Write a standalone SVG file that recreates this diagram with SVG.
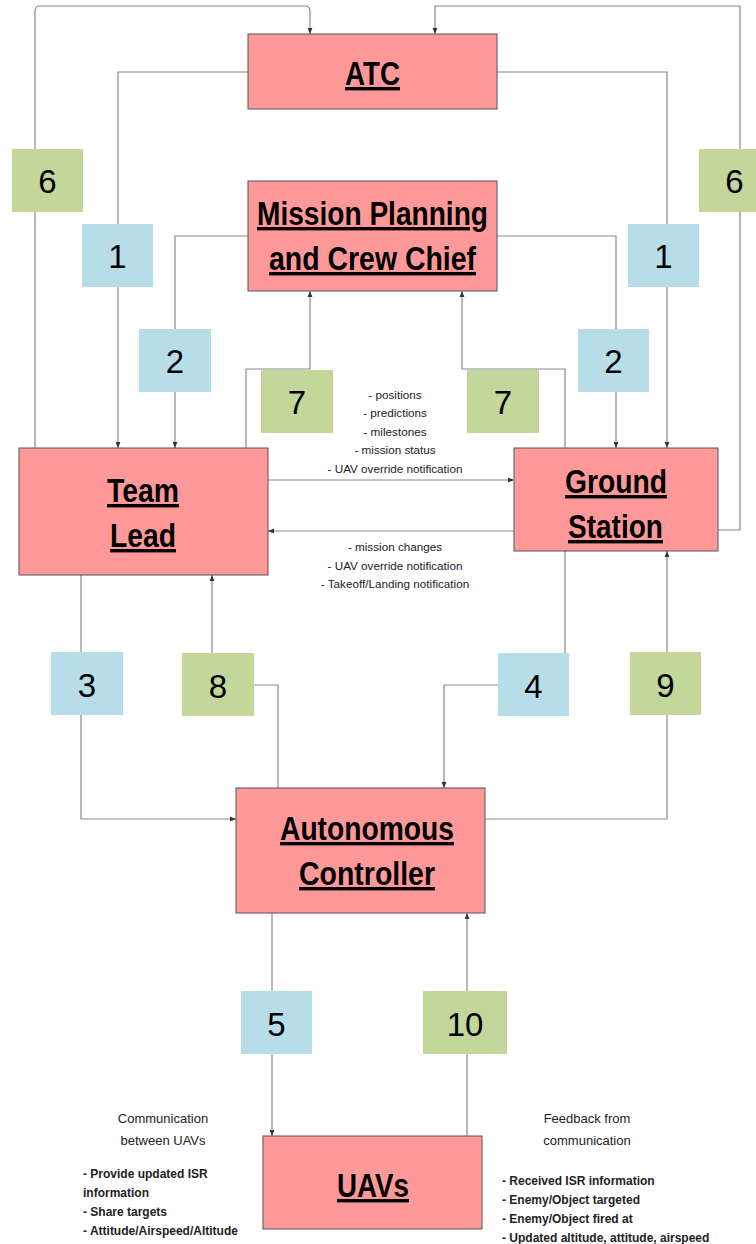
<svg xmlns="http://www.w3.org/2000/svg" width="756" height="1244" viewBox="0 0 756 1244">
<style>
.node{fill:#FF9999;stroke:#555;stroke-width:1}
.title{font-family:"Liberation Sans",Arial,sans-serif;font-weight:bold;font-size:34px;fill:#000;text-anchor:middle;text-decoration:underline}
.blue{fill:#B7DEE8}
.green{fill:#C4D79B}
.num{font-family:"Liberation Sans",Arial,sans-serif;font-size:33px;fill:#000;text-anchor:middle}
.conn{fill:none;stroke:#8a8a8a;stroke-width:1.2}
.note{font-family:"Liberation Sans",Arial,sans-serif;font-size:11.7px;fill:#222;text-anchor:middle}
.cap{font-family:"Liberation Sans",Arial,sans-serif;font-size:13px;fill:#222;text-anchor:middle}
.bul{font-family:"Liberation Sans",Arial,sans-serif;font-size:12px;font-weight:bold;fill:#222}
</style>
<defs>
<marker id="arr" viewBox="0 0 10 10" refX="10" refY="5" markerWidth="5" markerHeight="5" orient="auto">
<path d="M0,1 L10,5 L0,9 z" fill="#333"/>
</marker>
</defs>
<rect width="756" height="1244" fill="#fff"/>

<g id="connectors">
<path class="conn" d="M35,448 V11 Q35,6 40,6 H305 Q310,6 310,11 V34" marker-end="url(#arr)"/>
<path class="conn" d="M248,72 H118 V448" marker-end="url(#arr)"/>
<path class="conn" d="M248,236 H175 V448" marker-end="url(#arr)"/>
<path class="conn" d="M246,448 V369 H310 V291" marker-end="url(#arr)"/>
<path class="conn" d="M718,530 H740 V6 H435 V34" marker-end="url(#arr)"/>
<path class="conn" d="M497,72 H667 V448" marker-end="url(#arr)"/>
<path class="conn" d="M497,236 H616 V448" marker-end="url(#arr)"/>
<path class="conn" d="M565,448 V369 H462 V291" marker-end="url(#arr)"/>
<path class="conn" d="M268,480 H514" marker-end="url(#arr)"/>
<path class="conn" d="M514,531 H268" marker-end="url(#arr)"/>
<path class="conn" d="M81,575 V819 H236" marker-end="url(#arr)"/>
<path class="conn" d="M278,788 V685 H212 V575" marker-end="url(#arr)"/>
<path class="conn" d="M565,551 V685 H444 V788" marker-end="url(#arr)"/>
<path class="conn" d="M485,819 H667 V551" marker-end="url(#arr)"/>
<path class="conn" d="M272,913 V1136" marker-end="url(#arr)"/>
<path class="conn" d="M467,1136 V913" marker-end="url(#arr)"/>
</g>

<g id="atc">
<rect class="node" x="248" y="34" width="249" height="75"/>
<text class="title" x="372.5" y="85" textLength="55" lengthAdjust="spacingAndGlyphs">ATC</text>
</g>
<g id="mission-planning">
<rect class="node" x="248" y="181" width="249" height="110"/>
<text class="title" x="372.5" y="225" textLength="231" lengthAdjust="spacingAndGlyphs">Mission Planning</text>
<text class="title" x="372.5" y="270" textLength="207" lengthAdjust="spacingAndGlyphs">and Crew Chief</text>
</g>
<g id="team-lead">
<rect class="node" x="19" y="448" width="249" height="127"/>
<text class="title" x="143" y="502" textLength="72" lengthAdjust="spacingAndGlyphs">Team</text>
<text class="title" x="143" y="547" textLength="66" lengthAdjust="spacingAndGlyphs">Lead</text>
</g>
<g id="ground-station">
<rect class="node" x="514" y="448" width="204" height="103"/>
<text class="title" x="616" y="493" textLength="102" lengthAdjust="spacingAndGlyphs">Ground</text>
<text class="title" x="615.5" y="538" textLength="95" lengthAdjust="spacingAndGlyphs">Station</text>
</g>
<g id="autonomous-controller">
<rect class="node" x="236" y="788" width="249" height="125"/>
<text class="title" x="367" y="840" textLength="174" lengthAdjust="spacingAndGlyphs">Autonomous</text>
<text class="title" x="367" y="885" textLength="136" lengthAdjust="spacingAndGlyphs">Controller</text>
</g>
<g id="uavs">
<rect class="node" x="263" y="1136" width="219" height="93"/>
<text class="title" x="373" y="1197" textLength="72" lengthAdjust="spacingAndGlyphs">UAVs</text>
</g>

<g id="label-6-left"><rect class="green" x="12" y="149" width="71" height="63"/><text class="num" x="47.5" y="193">6</text></g>
<g id="label-1-left"><rect class="blue" x="82" y="224" width="71" height="63"/><text class="num" x="117.5" y="268">1</text></g>
<g id="label-6-right"><rect class="green" x="699" y="149" width="71" height="63"/><text class="num" x="734.5" y="193">6</text></g>
<g id="label-1-right"><rect class="blue" x="628" y="224" width="71" height="63"/><text class="num" x="663.5" y="268">1</text></g>
<g id="label-2-left"><rect class="blue" x="139" y="329" width="72" height="63"/><text class="num" x="175" y="373">2</text></g>
<g id="label-7-left"><rect class="green" x="261" y="370" width="72" height="63"/><text class="num" x="297" y="414">7</text></g>
<g id="label-7-right"><rect class="green" x="467" y="370" width="72" height="63"/><text class="num" x="503" y="414">7</text></g>
<g id="label-2-right"><rect class="blue" x="578" y="329" width="71" height="63"/><text class="num" x="613.5" y="373">2</text></g>
<g id="label-3"><rect class="blue" x="51" y="652" width="72" height="63"/><text class="num" x="87" y="697">3</text></g>
<g id="label-8"><rect class="green" x="182" y="653" width="72" height="63"/><text class="num" x="218" y="698">8</text></g>
<g id="label-4"><rect class="blue" x="498" y="653" width="71" height="63"/><text class="num" x="533.5" y="698">4</text></g>
<g id="label-9"><rect class="green" x="630" y="652" width="71" height="63"/><text class="num" x="665.5" y="697">9</text></g>
<g id="label-5"><rect class="blue" x="241" y="991" width="71" height="63"/><text class="num" x="276.5" y="1036">5</text></g>
<g id="label-10"><rect class="green" x="423" y="991" width="84" height="63"/><text class="num" x="465" y="1036">10</text></g>

<g id="notes">
<text class="note" x="395" y="399">- positions</text>
<text class="note" x="395" y="417">- predictions</text>
<text class="note" x="395" y="436">- milestones</text>
<text class="note" x="395" y="454">- mission status</text>
<text class="note" x="395" y="473">- UAV override notification</text>
<text class="note" x="395" y="551">- mission changes</text>
<text class="note" x="395" y="570">- UAV override notification</text>
<text class="note" x="395" y="588">- Takeoff/Landing notification</text>
<text class="cap" x="163" y="1123">Communication</text>
<text class="cap" x="163" y="1145">between UAVs</text>
<text class="bul" x="83" y="1178">- Provide updated ISR</text>
<text class="bul" x="83" y="1197">information</text>
<text class="bul" x="83" y="1216">- Share targets</text>
<text class="bul" x="83" y="1235">- Attitude/Airspeed/Altitude</text>
<text class="cap" x="587" y="1123">Feedback from</text>
<text class="cap" x="587" y="1145">communication</text>
<text class="bul" x="502" y="1185">- Received ISR information</text>
<text class="bul" x="502" y="1204">- Enemy/Object targeted</text>
<text class="bul" x="502" y="1223">- Enemy/Object fired at</text>
<text class="bul" x="502" y="1242">- Updated altitude, attitude, airspeed</text>
</g>
</svg>
